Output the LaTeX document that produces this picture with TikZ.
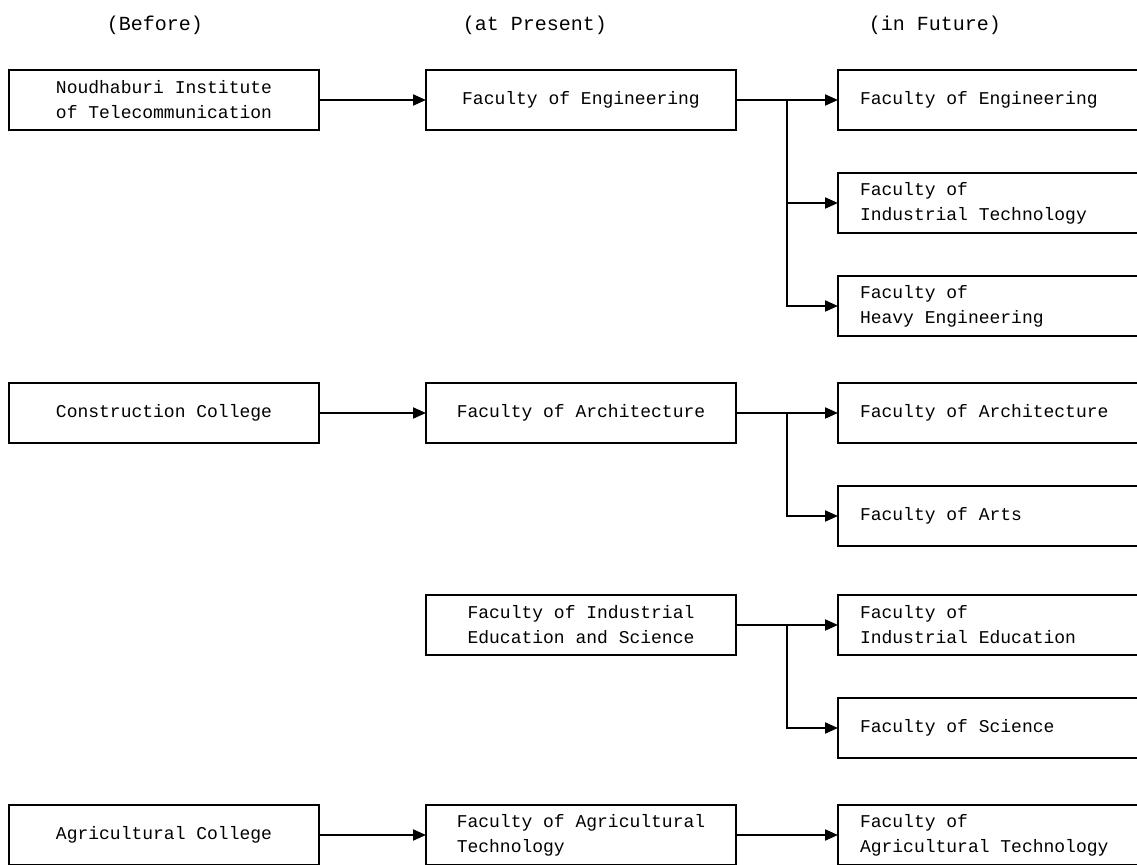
\documentclass[tikz,border=0pt]{standalone}
\usepackage{fontspec}
\setmainfont{Liberation Mono}
\usetikzlibrary{arrows.meta}

\begin{document}
\begin{tikzpicture}[x=0.5pt, y=-0.5pt,
    every node/.style={font=\fontsize{9}{12.5}\selectfont, outer sep=0pt},
    oldbox/.style={draw, line width=0.9pt, minimum width=155pt, minimum height=30pt, align=left, inner sep=0pt},
    newbox/.style={draw, line width=0.9pt, text width=138pt, inner xsep=11pt, minimum height=30pt, align=left,
        execute at begin node={\spaceskip=5.4pt\relax}},
    link/.style={line width=1pt, -{Triangle[length=6.5pt, width=5.5pt]}}]
    \useasboundingbox (0,0) rectangle (1137,865);

    % Headings
    \node[font=\fontsize{10}{12}\selectfont] (hbefore) at (155,25) {(Before)};
    \node[font=\fontsize{10}{12}\selectfont] (hpresent) at (535,25) {(at Present)};
    \node[font=\fontsize{10}{12}\selectfont] (hfuture) at (935,25) {(in Future)};

    % Before
    \node[oldbox] (nit) at (164,100) {Noudhaburi Institute\\of Telecommunication};
    \node[oldbox] (cc) at (164,413) {Construction College};
    \node[oldbox] (ac) at (164,835) {Agricultural College};

    % At present
    \node[oldbox] (feng) at (581,100) {Faculty of Engineering};
    \node[oldbox] (farch) at (581,413) {Faculty of Architecture};
    \node[oldbox] (fies) at (581,625) {Faculty of Industrial\\Education and Science};
    \node[oldbox] (fagri) at (581,835) {Faculty of Agricultural\\Technology};

    % In future
    \node[newbox] (neng) at (998,100) {Faculty of Engineering};
    \node[newbox] (nind) at (998,203) {Faculty of\\Industrial Technology};
    \node[newbox] (nheavy) at (998,306) {Faculty of\\Heavy Engineering};
    \node[newbox] (narch) at (998,413) {Faculty of Architecture};
    \node[newbox] (narts) at (998,516) {Faculty of Arts};
    \node[newbox] (nied) at (998,625) {Faculty of\\Industrial Education};
    \node[newbox] (nsci) at (998,728) {Faculty of Science};
    \node[newbox] (nagri) at (998,835) {Faculty of\\Agricultural Technology};

    % Branch points
    \coordinate (s1) at (787,100);
    \coordinate (s2) at (787,413);
    \coordinate (s3) at (787,625);

    % Arrows
    \draw[link] (nit.east) -- (feng.west);
    \draw[link] (cc.east) -- (farch.west);
    \draw[link] (ac.east) -- (fagri.west);

    \draw[link] (feng.east) -- (neng.west);
    \draw[link] (s1) |- (nind.west);
    \draw[link] (s1) |- (nheavy.west);

    \draw[link] (farch.east) -- (narch.west);
    \draw[link] (s2) |- (narts.west);

    \draw[link] (fies.east) -- (nied.west);
    \draw[link] (s3) |- (nsci.west);

    \draw[link] (fagri.east) -- (nagri.west);

\end{tikzpicture}
\end{document}
